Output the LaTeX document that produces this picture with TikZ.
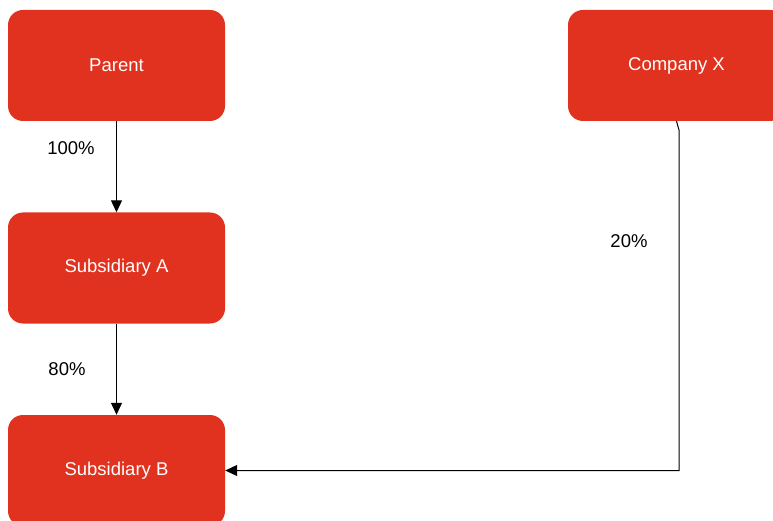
\documentclass[tikz,border=0pt]{standalone}
\usepackage{fontspec}
\setmainfont{Liberation Sans}
\usetikzlibrary{arrows.meta}
\definecolor{boxred}{RGB}{224,50,30}
\begin{document}
\begin{tikzpicture}[x=1pt,y=-1pt,
    entity/.style ={rectangle, rounded corners=15pt, fill=boxred, text=white, inner sep=0pt, minimum width=217pt, minimum height=111pt, font=\fontsize{18.5}{21}\selectfont},
    share/.style ={font=\fontsize{18.5}{21}\selectfont, inner sep=0pt},
    link/.style ={line width=1pt, -{Triangle[length=12pt,width=11pt]}}]
   \useasboundingbox (0,0) rectangle (773,521);
   \node[entity] (P)  at (116.5,65.5)  {Parent};
   \node[entity] (SA) at (116.5,268)   {Subsidiary A};
   \node[entity] (SB) at (116.5,470.5) {Subsidiary B};
   \node[entity] (CX) at (676.5,65.5)  {Company X};
   \coordinate (K) at (679,130);
   \draw[link] (P) -- (SA);
   \draw[link] (SA) -- (SB);
   \draw[link] (CX.south) -- (K) |- (SB.east);
   \node[share] (L1) at (71,148) {100\%};
   \node[share] (L2) at (67,369) {80\%};
   \node[share] (L3) at (629,241) {20\%};
 \end{tikzpicture}
\end{document}
